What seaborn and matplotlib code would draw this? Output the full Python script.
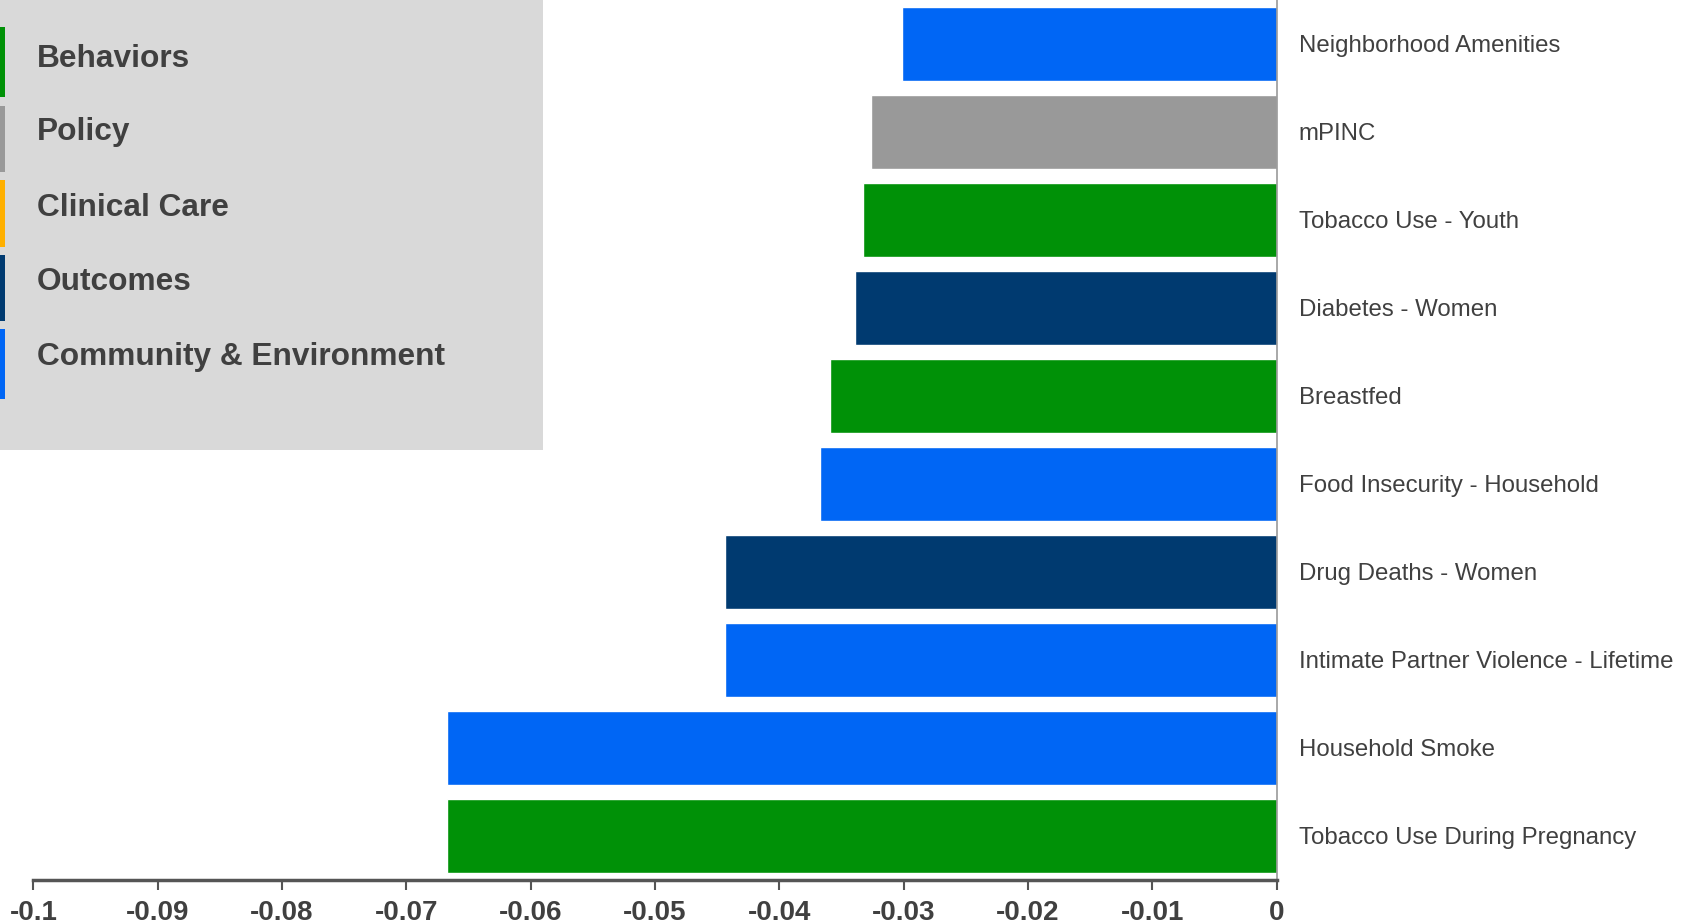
import numpy as np
import pandas as pd
import matplotlib
matplotlib.use("Agg")
import matplotlib.pyplot as plt
import seaborn as sns
from matplotlib.patches import Rectangle

# data (top to bottom)
measures = ["Neighborhood Amenities", "mPINC", "Tobacco Use - Youth", "Diabetes - Women",
            "Breastfed", "Food Insecurity - Household", "Drug Deaths - Women",
            "Intimate Partner Violence - Lifetime", "Household Smoke",
            "Tobacco Use During Pregnancy"]
values = [-0.0301, -0.0326, -0.0333, -0.0339, -0.0359, -0.0367, -0.0444, -0.0444, -0.0667, -0.0667]
groups = ["Community & Environment", "Policy", "Behaviors", "Outcomes", "Behaviors",
          "Community & Environment", "Outcomes", "Community & Environment",
          "Community & Environment", "Behaviors"]

legend_groups = ["Behaviors", "Policy", "Clinical Care", "Outcomes", "Community & Environment"]
group_colors = {"Behaviors": "#009107", "Policy": "#999999", "Clinical Care": "#FFB000",
                "Outcomes": "#003A70", "Community & Environment": "#0066F5"}

df = pd.DataFrame({"Measure": measures, "Value": values, "Group": groups})

sns.set_style("white")
plt.rcParams["font.family"] = ["Liberation Sans", "DejaVu Sans"]

fig = plt.figure(figsize=(16.92, 9.23), dpi=100)
ax = fig.add_axes([33.5 / 1692, 1 - 880 / 923, (1276.6 - 33.5) / 1692, 880 / 923])

sns.barplot(data=df, y="Measure", x="Value", hue="Measure",
            palette=[group_colors[g] for g in groups], width=0.85,
            legend=False, ax=ax, saturation=1)

ax.set_xlim(-0.1, 0)
ax.set_ylim(9.5, -0.5)
ax.set_xlabel("")
ax.set_ylabel("")
ax.set_xticks(np.arange(-0.1, 0.001, 0.01))
ax.set_xticklabels(["-0.1", "-0.09", "-0.08", "-0.07", "-0.06", "-0.05", "-0.04",
                    "-0.03", "-0.02", "-0.01", "0"])
ax.yaxis.tick_right()
ax.tick_params(axis="y", length=0, pad=16, labelsize=17.3, labelcolor="#404040")
ax.tick_params(axis="x", bottom=True, direction="out", length=7, width=1.5, color="#555555",
               labelsize=20, labelcolor="#404040", pad=7.5)
for lab in ax.get_xticklabels():
    lab.set_fontweight("bold")

for s in ["top", "left"]:
    ax.spines[s].set_visible(False)
ax.spines["bottom"].set_color("#555555")
ax.spines["bottom"].set_linewidth(2.5)
ax.spines["right"].set_color("#999999")
ax.spines["right"].set_linewidth(1.2)

# custom legend box in the top left corner
W, H = 1692, 923
fig.add_artist(Rectangle((0, 1 - 450 / H), 543 / W, 450 / H, transform=fig.transFigure,
                         facecolor="#D9D9D9", edgecolor="none", zorder=5))
strips = [(27, 97), (106, 172), (180, 247), (255, 321), (329, 399)]
baselines = [67, 140, 216, 290, 365]
for name, (y0, y1), yb in zip(legend_groups, strips, baselines):
    fig.add_artist(Rectangle((0, 1 - y1 / H), 4.7 / W, (y1 - y0) / H,
                             transform=fig.transFigure, facecolor=group_colors[name],
                             edgecolor="none", zorder=6))
    fig.text(37 / W, 1 - yb / H, name, fontsize=22.8, fontweight="bold",
             color="#404040", va="baseline", ha="left", zorder=7)

fig.savefig("out.png", dpi=100)
